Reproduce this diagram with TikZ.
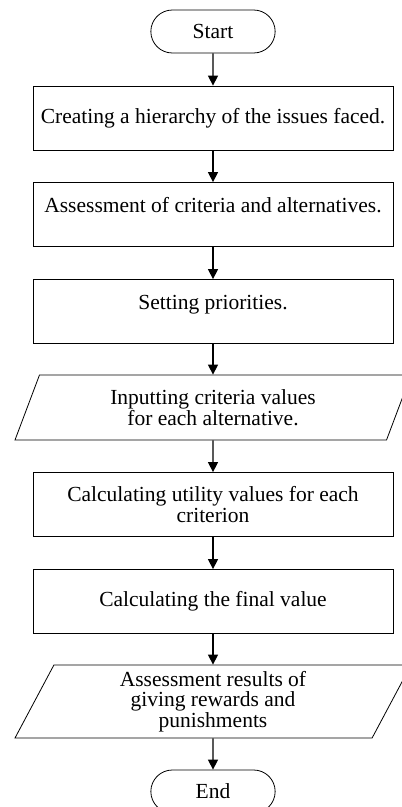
\documentclass[tikz,border=0pt]{standalone}
\usepackage{fontspec}
\setmainfont{Liberation Serif}
\usetikzlibrary{arrows.meta,shapes.misc,shapes.geometric}
\definecolor{inkblack}{RGB}{0, 0, 0}

\begin{document}
\begin{tikzpicture}[x=1pt, y=1pt,
        stepbox/.style   = {draw=inkblack, line width=0.8pt, rectangle, minimum width=360pt, minimum height=64pt,
                            align=center, font=\fontsize{21.5}{20.5}\selectfont},
        lifted/.style    = {text depth=19pt},
        endbox/.style    = {draw=inkblack, line width=0.8pt, rounded rectangle, minimum width=131pt, minimum height=43pt,
                            font=\fontsize{21.5}{20.5}\selectfont},
        iobox/.style     = {draw=inkblack, line width=0.8pt, trapezium, trapezium left angle=60, trapezium right angle=120,
                            trapezium stretches body, minimum width=396pt, align=center, font=\fontsize{21.5}{20.5}\selectfont},
        flow/.style      = {draw=inkblack, line width=1.4pt, -{Triangle[length=10pt, width=10pt]}}]
            % Frame to ensure alignment:
            \useasboundingbox                                          (  0.00,    0.00) rectangle (402.00, -807.00);
            \node[endbox]                            (start)   at (213.00,  -31.50) {Start};
            \node[stepbox]                           (hier)    at (213.00, -118.00) {Creating a hierarchy of the issues faced.};
            \node[stepbox, lifted]                   (assess)  at (213.00, -214.50) {Assessment of criteria and alternatives.};
            \node[stepbox, lifted]                   (prior)   at (213.00, -311.50) {Setting priorities.};
            \node[iobox, minimum height=65pt]        (input)   at (213.00, -407.50) {Inputting criteria values\\for each alternative.};
            \node[stepbox]                           (utility) at (213.00, -504.50) {Calculating utility values for each\\criterion};
            \node[stepbox]                           (final)   at (213.00, -601.50) {Calculating the final value};
            \node[iobox, minimum height=73pt]        (result)  at (213.00, -701.50) {Assessment results of\\giving rewards and\\punishments};
            \node[endbox]                            (end)     at (213.00, -791.50) {End};
            % Connectors:
            \foreach \from/\to in {start/hier, hier/assess, assess/prior, prior/input, input/utility, utility/final, final/result, result/end}
                \draw[flow] (\from) -- (\to);
        \end{tikzpicture}
\end{document}
